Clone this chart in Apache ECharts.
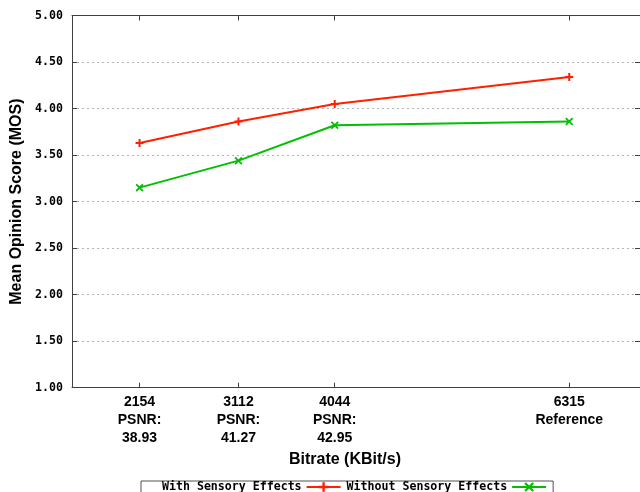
<!DOCTYPE html>
<html>
<head>
<meta charset="utf-8">
<script src="https://cdn.jsdelivr.net/npm/echarts@6/dist/echarts.min.js"></script>
<style>
html,body{margin:0;padding:0;background:#fff;}
#chart{width:640px;height:492px;}
</style>
</head>
<body>
<div id="chart"></div>
<script>
// ---- data ----
var bitrates = [2154, 3112, 4044, 6315];
var xTickLabels = ['2154\nPSNR:\n38.93', '3112\nPSNR:\n41.27', '4044\nPSNR:\n42.95', '6315\nReference'];
var withEffects = [3.63, 3.86, 4.05, 4.34];
var withoutEffects = [3.15, 3.44, 3.82, 3.86];
var seriesNames = ['With Sensory Effects', 'Without Sensory Effects'];
var xTitle = 'Bitrate (KBit/s)';
var yTitle = 'Mean Opinion Score (MOS)';

function pairs(xs, ys) { return xs.map(function (x, i) { return [x, ys[i]]; }); }

var plusPath = 'path://M3.75,0H6.25V3.75H10V6.25H6.25V10H3.75V6.25H0V3.75H3.75Z';
var crossPath = 'path://M0,1.6L1.6,0L5,3.4L8.4,0L10,1.6L6.6,5L10,8.4L8.4,10L5,6.6L1.6,10L0,8.4L3.4,5Z';

var axisColor = '#404040';
var monoFont = 'DejaVu Sans Mono';
var sansFont = 'Liberation Sans';

var chart = echarts.init(document.getElementById('chart'), null, {renderer: 'canvas'});
chart.setOption({
  animation: false,
  backgroundColor: '#fff',
  grid: {left: 72, top: 15.5, width: 570, height: 372.2, containLabel: false},
  legend: {
    data: seriesNames,
    left: 141, top: 481,
    align: 'right',
    orient: 'horizontal',
    itemWidth: 34, itemHeight: 12, itemGap: 5,
    padding: [0, 6, 14, 21],
    borderColor: '#505050', borderWidth: 1,
    textStyle: {fontFamily: monoFont, fontWeight: 'bold', fontSize: 11.6, color: '#000', lineHeight: 12}
  },
  xAxis: [{
    type: 'value', min: 1500, max: 7000, position: 'bottom',
    name: xTitle, nameLocation: 'middle', nameGap: 64,
    nameTextStyle: {fontFamily: sansFont, fontWeight: 'bold', fontSize: 16, color: '#000', padding: [0, 22, 0, 0]},
    axisLine: {show: true, lineStyle: {color: axisColor, width: 1}},
    axisTick: {show: true, inside: true, length: 5, customValues: bitrates, lineStyle: {color: axisColor}},
    axisLabel: {
      customValues: bitrates, margin: 5,
      fontFamily: sansFont, fontWeight: 'bold', fontSize: 14, color: '#000', lineHeight: 18,
      formatter: function (v) { var i = bitrates.indexOf(v); return i >= 0 ? xTickLabels[i] : ''; }
    },
    splitLine: {show: false}
  }, {
    type: 'value', min: 1500, max: 7000, position: 'top',
    axisLine: {show: true, lineStyle: {color: axisColor, width: 1}},
    axisTick: {show: true, inside: true, length: 5, customValues: bitrates, lineStyle: {color: axisColor}},
    axisLabel: {show: false},
    splitLine: {show: false}
  }],
  yAxis: [{
    type: 'value', min: 1, max: 5, interval: 0.5, position: 'left',
    name: yTitle, nameLocation: 'middle', nameGap: 39, nameRotate: 90,
    nameTextStyle: {fontFamily: sansFont, fontWeight: 'bold', fontSize: 16, color: '#000'},
    axisLine: {show: true, lineStyle: {color: axisColor, width: 1}},
    axisTick: {show: true, inside: true, length: 5, lineStyle: {color: axisColor}},
    axisLabel: {
      margin: 9, fontFamily: monoFont, fontWeight: 'bold', fontSize: 11.6, color: '#000',
      formatter: function (v) { return v.toFixed(2); }
    },
    splitLine: {show: true, lineStyle: {color: '#b4b4b4', width: 1, type: [2, 3]}}
  }, {
    type: 'value', min: 1, max: 5, interval: 0.5, position: 'right',
    axisLine: {show: true, lineStyle: {color: axisColor, width: 1}},
    axisTick: {show: true, inside: true, length: 5, lineStyle: {color: axisColor}},
    axisLabel: {show: false},
    splitLine: {show: false}
  }],
  series: [{
    name: seriesNames[0], type: 'line', xAxisIndex: 0, yAxisIndex: 0,
    data: pairs(bitrates, withEffects),
    symbol: plusPath, symbolSize: 8,
    lineStyle: {color: '#ff2000', width: 2},
    itemStyle: {color: '#ff2000'}
  }, {
    name: seriesNames[1], type: 'line', xAxisIndex: 0, yAxisIndex: 0,
    data: pairs(bitrates, withoutEffects),
    symbol: crossPath, symbolSize: 8,
    lineStyle: {color: '#00c000', width: 2},
    itemStyle: {color: '#00c000'}
  }]
});
</script>
</body>
</html>
